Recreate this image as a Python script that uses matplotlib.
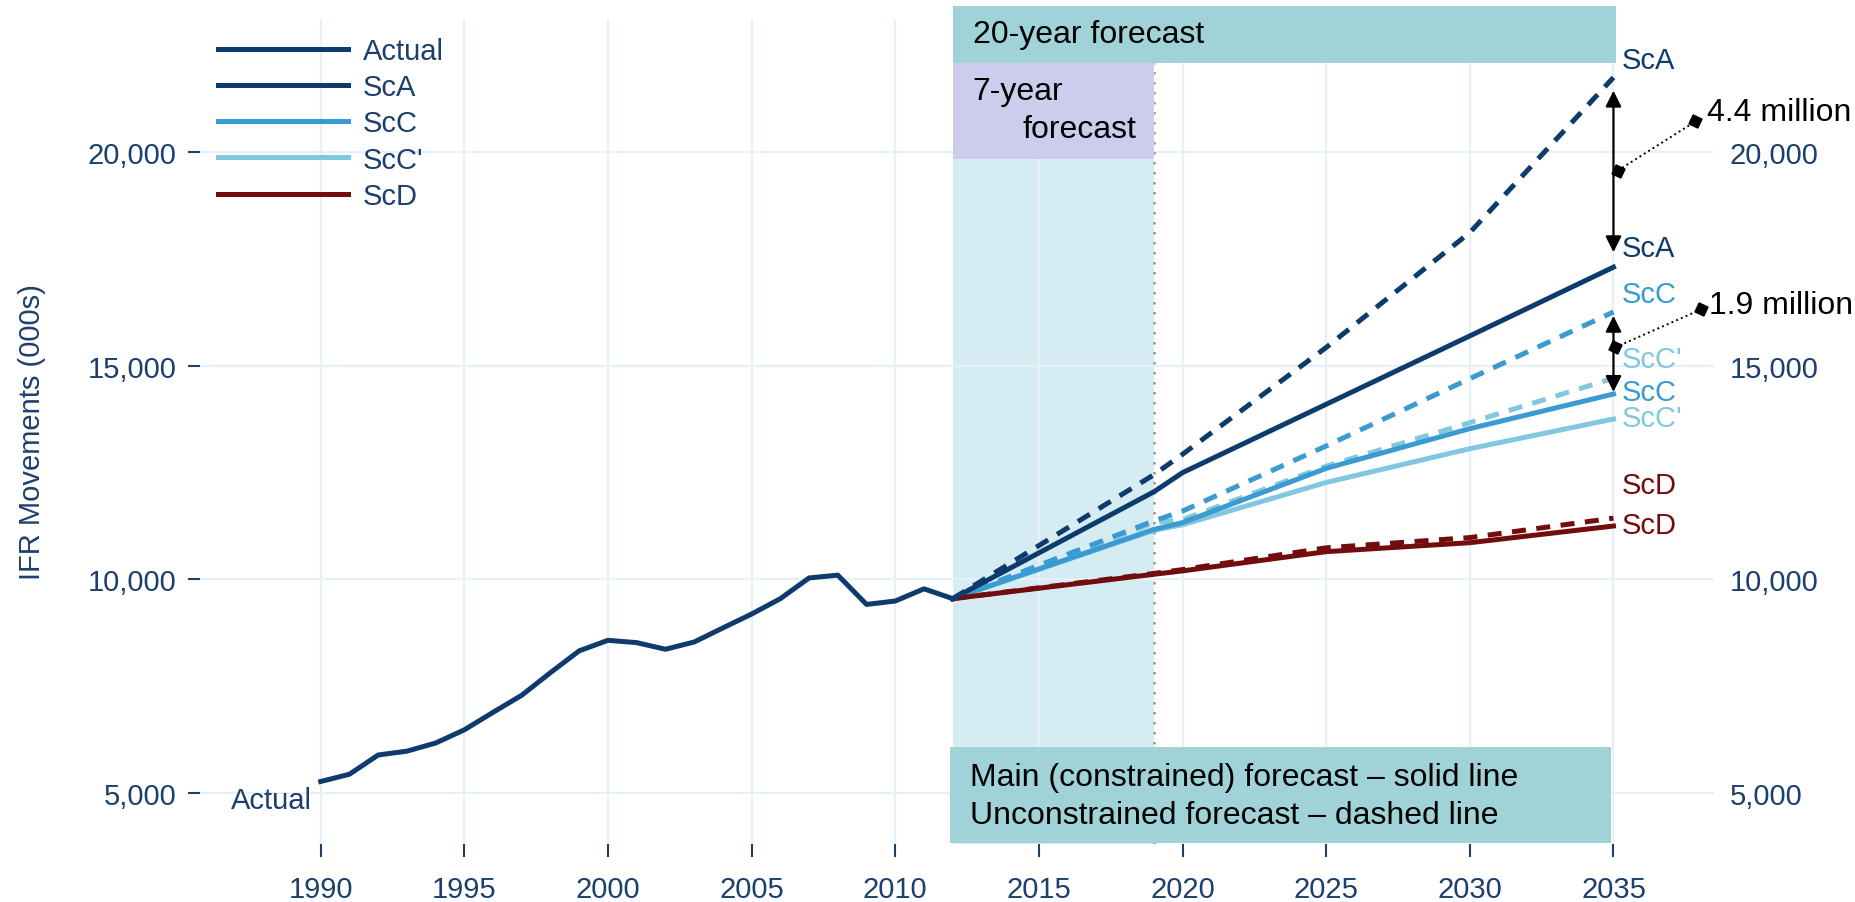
import matplotlib
matplotlib.use("Agg")
import matplotlib.pyplot as plt

plt.rcParams['font.family'] = ['Liberation Sans', 'DejaVu Sans']
NARROW = ['Liberation Sans Narrow', 'Liberation Sans', 'DejaVu Sans']

# actual movements 1990-2012
years_actual = list(range(1990, 2013))
actual = [5270, 5440, 5890, 5980, 6170, 6480, 6890, 7290, 7820, 8330, 8575, 8520,
          8365, 8535, 8865, 9190, 9550, 10035, 10100, 9415, 9495, 9780, 9550]

# forecast scenarios
years_fc = [2012, 2019, 2020, 2025, 2030, 2035]
sca = [9550, 12050, 12500, 14100, 15700, 17310]
sca_unc = [9550, 12450, 12930, 15430, 18120, 21750]
scc = [9550, 11170, 11330, 12600, 13530, 14340]
scc_unc = [9550, 11370, 11600, 13125, 14700, 16260]
sccp = [9550, 11150, 11280, 12270, 13060, 13755]
sccp_unc = [9550, 11330, 11400, 12650, 13670, 14710]
scd = [9550, 10120, 10200, 10650, 10860, 11250]
scd_unc = [9550, 10140, 10230, 10740, 10980, 11435]

scenario_names = ['ScA', 'ScC', "ScC'", 'ScD']
y_ticks = [5000, 10000, 15000, 20000]
y_ticklabels = ['5,000', '10,000', '15,000', '20,000']
x_ticks = list(range(1990, 2036, 5))

NAVY = '#0d3b6e'
MID = '#3a9bd2'
LIGHT = '#80c7df'
RED = '#730c0c'
TXT = '#1c3f6e'
TEAL = '#a0d3d7'
LILAC = '#ccccec'
SHADE = '#d5ecf2'
GRID = '#e6f1f7'

fig = plt.figure(figsize=(18.56, 9.03), dpi=100)
ax = fig.add_axes([0.1078, 0.0642, 0.8157, 0.9137])
ax.set_xlim(1985.8, 2038.5)
ax.set_ylim(3806, 23120)

for s in ax.spines.values():
    s.set_visible(False)

ax.set_xticks(x_ticks)
ax.set_yticks(y_ticks)
ax.set_yticklabels(y_ticklabels)
ax.grid(True, color=GRID, lw=1.6, zorder=0)
ax.set_axisbelow(True)
ax.tick_params(axis='both', colors=TXT, labelsize=21, width=1.5, length=9)
ax.tick_params(axis='x', pad=13)
ax.tick_params(axis='y', pad=8)
ax.set_ylabel('IFR Movements (000s)', color=TXT, fontsize=21)
ax.yaxis.set_label_coords(-0.1015, 0.5)

sec = ax.secondary_yaxis('right')
sec.set_yticks(y_ticks)
sec.set_yticklabels(y_ticklabels)
sec.tick_params(colors=TXT, labelsize=21, length=0, pad=11)
for s in sec.spines.values():
    s.set_visible(False)

# forecast periods
ax.axvspan(2012, 2019, color=SHADE, zorder=0.5, lw=0)
ax.plot([2019, 2019], [3806, 22100], color='#999999', ls=(0, (1, 3)), lw=1.8, zorder=1)
ax.add_patch(plt.Rectangle((2012, 19840), 7, 2240, color=LILAC, lw=0, zorder=3))
ax.add_patch(plt.Rectangle((2012, 22100), 23.1, 1330, color=TEAL, lw=0, zorder=3,
                           clip_on=False))
ax.add_patch(plt.Rectangle((2011.9, 3830), 23.0, 2250, color=TEAL, lw=0, zorder=3,
                           clip_on=False))
ax.text(2012.7, 22770, '20-year forecast', family=NARROW, fontsize=23,
        va='center', ha='left', zorder=4, clip_on=False)
ax.text(2012.7, 21430, '7-year', family=NARROW, fontsize=23, va='center', zorder=4)
ax.text(2018.4, 20550, 'forecast', family=NARROW, fontsize=23, va='center',
        ha='right', zorder=4)
ax.text(2012.6, 5380, 'Main (constrained) forecast \u2013 solid line', family=NARROW,
        fontsize=23, va='center', zorder=4)
ax.text(2012.6, 4480, 'Unconstrained forecast \u2013 dashed line', family=NARROW,
        fontsize=23, va='center', zorder=4)

# lines
dash = (0, (2.8, 2.1))
lw = 3.6
ax.plot(years_fc, scd_unc, color=RED, lw=lw, ls=dash, zorder=5)
ax.plot(years_fc, sccp_unc, color=LIGHT, lw=lw, ls=dash, zorder=5)
ax.plot(years_fc, scc_unc, color=MID, lw=lw, ls=dash, zorder=5)
ax.plot(years_fc, sca_unc, color=NAVY, lw=lw, ls=dash, zorder=5)
l_sccp, = ax.plot(years_fc, sccp, color=LIGHT, lw=lw, zorder=6)
l_scc, = ax.plot(years_fc, scc, color=MID, lw=lw, zorder=6)
l_scd, = ax.plot(years_fc, scd, color=RED, lw=lw, zorder=6)
l_sca, = ax.plot(years_fc, sca, color=NAVY, lw=lw, zorder=6)
l_act, = ax.plot(years_actual, actual, color=NAVY, lw=lw, zorder=7)

ax.text(1989.7, 4843, 'Actual', color=TXT, fontsize=21, ha='right', va='center')

# end labels
end_labels = [('ScA', 22163, NAVY), ('ScA', 17758, NAVY), ('ScC', 16689, MID),
              ("ScC'", 15157, LIGHT), ('ScC', 14384, MID), ("ScC'", 13775, LIGHT),
              ('ScD', 12205, RED), ('ScD', 11268, RED)]
for lab, yv, c in end_labels:
    ax.text(2035.3, yv, lab, color=c, fontsize=21, va='center', ha='left',
            zorder=8, clip_on=False)

# gap arrows
arrow = dict(arrowstyle='<|-|>', color='black', lw=1.6, mutation_scale=24,
             shrinkA=0, shrinkB=0)
ax.annotate('', xy=(2035, 21440), xytext=(2035, 17660), arrowprops=arrow, zorder=8)
ax.annotate('', xy=(2035, 16170), xytext=(2035, 14390), arrowprops=arrow, zorder=8)
ax.plot([2035.15, 2037.85], [19570, 20720], color='black', ls=':', lw=1.4,
        marker=(4, 0, 20), ms=10, zorder=8, clip_on=False)
ax.plot([2035.05, 2038.05], [15430, 16320], color='black', ls=':', lw=1.4,
        marker=(4, 0, 20), ms=10, zorder=8, clip_on=False)
ax.text(2038.25, 20950, '4.4 million', family=NARROW, fontsize=23, va='center',
        zorder=8)
ax.text(2038.33, 16413, '1.9 million', family=NARROW, fontsize=23, va='center',
        zorder=8)

leg = ax.legend([l_act, l_sca, l_scc, l_sccp, l_scd], ['Actual'] + scenario_names,
                loc='upper left', bbox_to_anchor=(0.0119, 0.978), frameon=False,
                fontsize=21, handlelength=4.45, handletextpad=0.5, labelspacing=0.28,
                borderpad=0, borderaxespad=0)
for t in leg.get_texts():
    t.set_color(TXT)

fig.savefig('out.png', dpi=100)
